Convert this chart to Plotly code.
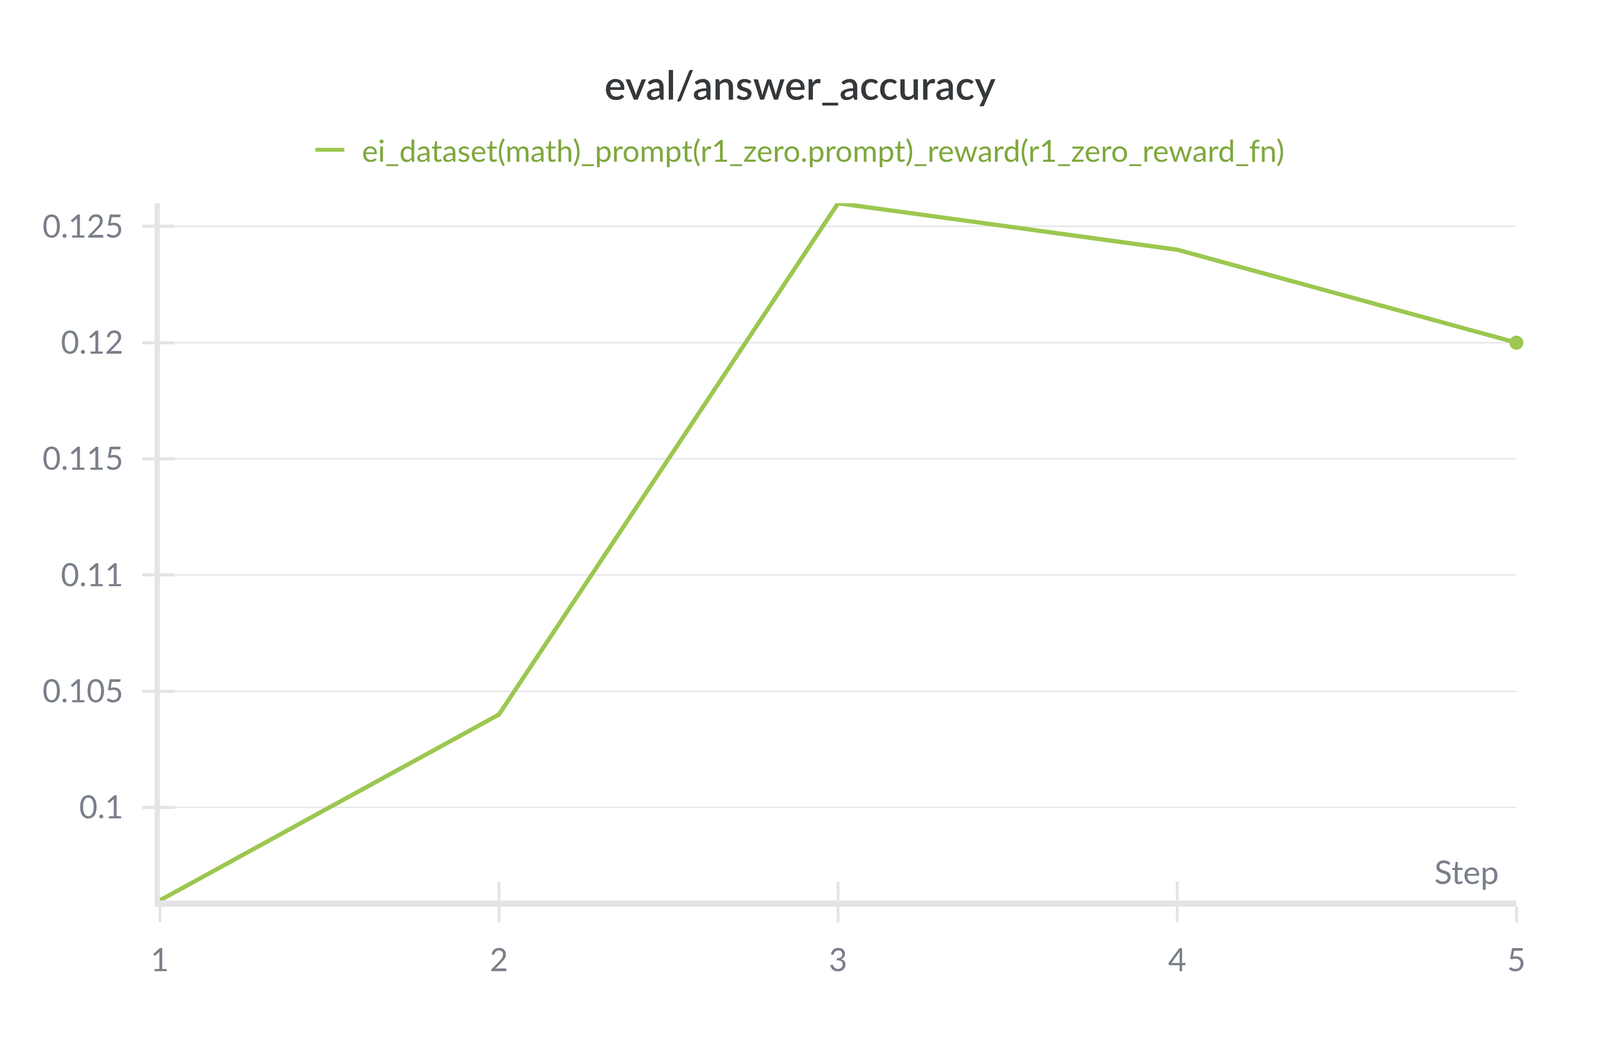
import plotly.graph_objects as go

# ---- data ----
steps = [1, 2, 3, 4, 5]
answer_accuracy = [0.096, 0.104, 0.126, 0.124, 0.120]
series_name = "ei_dataset(math)_prompt(r1_zero.prompt)_reward(r1_zero_reward_fn)"
chart_title = "eval/answer_accuracy"
x_label = "Step"
y_tick_values = [0.1, 0.105, 0.11, 0.115, 0.12, 0.125]
y_tick_labels = ["0.1", "0.105", "0.11", "0.115", "0.12", "0.125"]
x_tick_values = [1, 2, 3, 4, 5]
x_tick_labels = ["1", "2", "3", "4", "5"]
y_range = [0.096, 0.126]

# ---- styles ----
H_EST = 2650  # approx. page height in CSS px (figure autosizes to the window)
FONT = "Lato"
LINE_COLOR = "#9cc750"
LEGEND_TEXT = "#80a83e"
TICK_TEXT = "#7a808a"
AXIS_COLOR = "#e4e4e7"
GRID_COLOR = "#e8e8ea"
TITLE_COLOR = "#35393c"

fig = go.Figure()

fig.add_trace(go.Scatter(
    x=steps, y=answer_accuracy, mode="lines",
    name="\u00a0\u00a0" + series_name,
    line=dict(color=LINE_COLOR, width=11),
    showlegend=True,
))
# endpoint marker on the last value
fig.add_trace(go.Scatter(
    x=steps[-1:], y=answer_accuracy[-1:], mode="markers",
    marker=dict(color=LINE_COLOR, size=36, line=dict(width=0)), cliponaxis=False,
    showlegend=False, hoverinfo="skip",
))
# invisible trace that activates the overlay axes (tick halves inside the plot)
fig.add_trace(go.Scatter(
    x=steps, y=answer_accuracy, mode="lines", xaxis="x2", yaxis="y2",
    line=dict(width=0), opacity=0, showlegend=False, hoverinfo="skip",
))

tickfont = dict(family=FONT, size=81, color=TICK_TEXT)

fig.update_layout(
    autosize=True,
    paper_bgcolor="white", plot_bgcolor="white",
    margin=dict(l=401, r=206, t=512, b=344, autoexpand=False),
    font=dict(family=FONT, color=TICK_TEXT),
    title=dict(
        text=chart_title, xref="container", x=0.5, xanchor="center",
        yref="container", y=1 - 212 / H_EST, yanchor="middle",
        font=dict(family=FONT, size=103, color=TITLE_COLOR, weight=600),
    ),
    showlegend=True,
    legend=dict(
        orientation="h", xref="container", x=0.5, xanchor="center",
        yref="container", y=1 - 377 / H_EST, yanchor="middle",
        font=dict(family=FONT, size=78, color=LEGEND_TEXT),
        itemwidth=74, bgcolor="rgba(0,0,0,0)",
    ),
    xaxis=dict(
        range=[steps[0], steps[-1]], tickvals=x_tick_values, ticktext=x_tick_labels,
        showgrid=False, zeroline=False,
        showline=True, linecolor=AXIS_COLOR, linewidth=16,
        ticks="outside", ticklen=40, tickwidth=6.5, tickcolor=AXIS_COLOR,
        tickfont=tickfont, ticklabelstandoff=28, automargin=False,
        layer="above traces",
    ),
    yaxis=dict(
        range=y_range, tickvals=y_tick_values, ticktext=y_tick_labels,
        showgrid=True, gridcolor=GRID_COLOR, gridwidth=4, zeroline=False,
        showline=True, linecolor=AXIS_COLOR, linewidth=13,
        ticks="outside", ticklen=32, tickwidth=8, tickcolor=AXIS_COLOR,
        tickfont=tickfont, ticklabelstandoff=32, automargin=False,
        layer="above traces",
    ),
    xaxis2=dict(
        overlaying="x", matches="x", side="bottom",
        tickvals=x_tick_values, showticklabels=False, showgrid=False,
        zeroline=False, showline=False,
        ticks="inside", ticklen=48, tickwidth=6.5, tickcolor=AXIS_COLOR,
    ),
    yaxis2=dict(
        overlaying="y", matches="y", side="left",
        tickvals=y_tick_values, showticklabels=False, showgrid=False,
        zeroline=False, showline=False,
        ticks="inside", ticklen=38, tickwidth=8, tickcolor=AXIS_COLOR,
    ),
    annotations=[dict(
        text=x_label, xref="paper", yref="paper", x=1, y=0,
        xanchor="right", yanchor="bottom", xshift=-43, yshift=22,
        showarrow=False, font=dict(family=FONT, size=84, color=TICK_TEXT),
    )],
)

fig.write_html("out.html")
